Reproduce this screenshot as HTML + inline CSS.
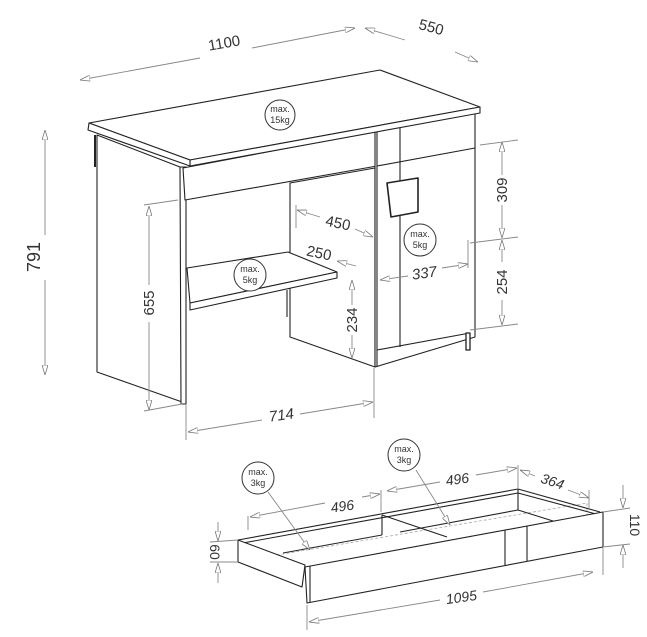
<!DOCTYPE html>
<html><head><style>
html,body{margin:0;padding:0;background:#fff}
svg{display:block}
text{font-family:"Liberation Sans",sans-serif;fill:#333}
</style></head><body>
<svg width="647" height="637" viewBox="0 0 647 637" xmlns="http://www.w3.org/2000/svg">
<defs>
<marker id="a" viewBox="0 0 10 6" refX="10" refY="3" markerWidth="10" markerHeight="6" orient="auto-start-reverse" markerUnits="userSpaceOnUse"><path d="M0,0 L10,3 L0,6 z" fill="#fff" stroke="#777" stroke-width="0.8"/></marker>
</defs>
<g fill="none" stroke="#aaa" stroke-width="0.9" stroke-dasharray="3,2">
<polygon points="295,228 387,212 468,242 377,258"/>
</g>
<!-- desk -->
<g fill="#fff" stroke="#222" stroke-width="1.1" stroke-linejoin="round">
<polygon points="97,135 180,167 185,403 97,372"/>
<line x1="95" y1="135" x2="95" y2="167" stroke-width="2"/>
<polygon points="180,167 186,167 186,404 181,404"/>
<polygon points="183,168 377,131 377,166 185,200"/>
<polygon points="290,183 375,168 375,367 290,337"/>
<polygon points="187,268 288,252 337,272 190,303"/>
<polygon points="190,303 337,272 337,278 190,310"/>
<line x1="287" y1="290" x2="287" y2="317"/>
<polygon points="375,131 475,113 475,337 375,367"/>
<line x1="377" y1="131" x2="377" y2="367"/>
<line x1="377" y1="350" x2="470" y2="333"/>
<line x1="400" y1="128" x2="400" y2="347"/>
<line x1="377" y1="166" x2="475" y2="148"/>
<rect x="466" y="333" width="4" height="17" stroke-width="1.3"/>
<polygon points="387,183 418,178 418,212 391,217" stroke-width="1.6"/>
<polygon points="89,123 380,70 480,107 190,160"/>
<polygon points="190,160 480,107 480,113 190,166"/>
<polygon points="89,123 190,160 190,166 88,130"/>
</g>
<g fill="none" stroke="#888" stroke-width="0.9">
<line x1="80" y1="80" x2="200" y2="58" marker-start="url(#a)"/>
<line x1="252" y1="48" x2="355" y2="28" marker-end="url(#a)"/>
<line x1="365" y1="28" x2="405" y2="40" marker-start="url(#a)"/>
<line x1="455" y1="52" x2="478" y2="62" marker-end="url(#a)"/>
<line x1="45" y1="130" x2="45" y2="235" marker-start="url(#a)"/>
<line x1="45" y1="280" x2="45" y2="375" marker-end="url(#a)"/>
<line x1="149" y1="206" x2="149" y2="285" marker-start="url(#a)"/>
<line x1="149" y1="322" x2="149" y2="410" marker-end="url(#a)"/>
<line x1="144" y1="205" x2="178" y2="200"/><line x1="144" y1="411" x2="182" y2="404"/>
<line x1="186" y1="405" x2="186" y2="440"/><line x1="374" y1="368" x2="374" y2="418"/>
<line x1="188" y1="432" x2="262" y2="420" marker-start="url(#a)"/>
<line x1="300" y1="414" x2="373" y2="402" marker-end="url(#a)"/>
<line x1="352" y1="280" x2="352" y2="305" marker-start="url(#a)"/>
<line x1="352" y1="335" x2="352" y2="358" marker-end="url(#a)"/>
<line x1="480" y1="145" x2="518" y2="140"/><line x1="470" y1="243" x2="518" y2="237"/><line x1="470" y1="330" x2="518" y2="324"/>
<line x1="502" y1="142" x2="502" y2="175" marker-start="url(#a)"/>
<line x1="502" y1="205" x2="502" y2="238" marker-end="url(#a)"/>
<line x1="502" y1="240" x2="502" y2="262" marker-start="url(#a)"/>
<line x1="502" y1="300" x2="502" y2="325" marker-end="url(#a)"/>
<line x1="297" y1="210" x2="320" y2="217" marker-start="url(#a)"/>
<line x1="355" y1="229" x2="373" y2="237" marker-end="url(#a)"/>
<line x1="337" y1="261" x2="356" y2="266" marker-start="url(#a)"/>
<line x1="380" y1="280" x2="408" y2="276" marker-start="url(#a)"/>
<line x1="442" y1="268" x2="468" y2="264" marker-end="url(#a)"/>
<line x1="468" y1="240" x2="468" y2="268"/><line x1="296" y1="205" x2="296" y2="228"/>
</g>
<g fill="#fff" stroke="#333" stroke-width="1">
<circle cx="280" cy="115" r="15"/>
<circle cx="420" cy="240" r="16"/>
<circle cx="250" cy="275" r="16"/>
</g>
<g font-size="9" text-anchor="middle">
<text x="280" y="112">max.</text><text x="280" y="123">15kg</text>
<text x="420" y="237">max.</text><text x="420" y="248">5kg</text>
<text x="250" y="272">max.</text><text x="250" y="283">5kg</text>
</g>
<g font-size="15">
<text transform="translate(225,48) rotate(-10)" text-anchor="middle">1100</text>
<text transform="translate(430,32) rotate(15)" text-anchor="middle">550</text>
<text transform="translate(40,257) rotate(-90)" text-anchor="middle" font-size="18">791</text>
<text transform="translate(154,303) rotate(-90)" text-anchor="middle">655</text>
<text transform="translate(282,420) rotate(-8)" text-anchor="middle" font-style="italic">714</text>
<text transform="translate(357,320) rotate(-90)" text-anchor="middle">234</text>
<text transform="translate(507,190) rotate(-90)" text-anchor="middle">309</text>
<text transform="translate(507,282) rotate(-90)" text-anchor="middle">254</text>
<text transform="translate(337,228) rotate(12)" text-anchor="middle">450</text>
<text transform="translate(318,258) rotate(12)" text-anchor="middle">250</text>
<text transform="translate(425,278) rotate(-8)" text-anchor="middle" font-style="italic">337</text>
</g>
<!-- drawer -->
<g fill="none" stroke="#aaa" stroke-width="0.8" stroke-dasharray="3,2">
<polyline points="247,560 587,503 587,532 307,585"/>
</g>
<g fill="none" stroke="#222" stroke-width="1.1" stroke-linejoin="round">
<polyline points="238,540 518,489 600,512"/>
<polyline points="243,543 518,493 596,514"/>
<line x1="283" y1="553" x2="382" y2="535"/>
<line x1="382" y1="515" x2="382" y2="535"/>
<line x1="382" y1="515" x2="447" y2="537"/>
<line x1="400" y1="532" x2="518" y2="510"/>
<line x1="518" y1="489" x2="518" y2="510"/>
<line x1="518" y1="510" x2="553" y2="521"/>
<polygon points="238,540 305,565 302,587 238,562" fill="#fff"/>
<polygon points="305,567 603,512 603,547 307,603" fill="#fff"/>
<line x1="310" y1="566" x2="310" y2="602"/>
<line x1="505" y1="530" x2="505" y2="565"/><line x1="527" y1="526" x2="527" y2="561"/>
</g>
<g fill="none" stroke="#888" stroke-width="0.9">
<line x1="248" y1="516" x2="248" y2="530"/><line x1="381" y1="490" x2="381" y2="512"/><line x1="518" y1="465" x2="518" y2="489"/>
<line x1="250" y1="517" x2="325" y2="503" marker-start="url(#a)"/>
<line x1="362" y1="497" x2="380" y2="494" marker-end="url(#a)"/>
<line x1="387" y1="491" x2="440" y2="482" marker-start="url(#a)"/>
<line x1="476" y1="475" x2="517" y2="468" marker-end="url(#a)"/>
<line x1="520" y1="470" x2="535" y2="476" marker-start="url(#a)"/>
<line x1="568" y1="490" x2="589" y2="498" marker-end="url(#a)"/>
<line x1="589" y1="490" x2="589" y2="510"/>
<line x1="603" y1="512" x2="630" y2="508"/><line x1="603" y1="547" x2="630" y2="544"/>
<line x1="623" y1="485" x2="623" y2="508" marker-end="url(#a)"/>
<line x1="623" y1="568" x2="623" y2="545" marker-end="url(#a)"/>
<line x1="210" y1="542" x2="238" y2="540"/><line x1="210" y1="562" x2="238" y2="562"/>
<line x1="218" y1="522" x2="218" y2="541" marker-end="url(#a)"/>
<line x1="218" y1="583" x2="218" y2="563" marker-end="url(#a)"/>
<line x1="307" y1="605" x2="307" y2="630"/><line x1="603" y1="548" x2="603" y2="575"/>
<line x1="309" y1="622" x2="440" y2="600" marker-start="url(#a)"/>
<line x1="483" y1="592" x2="593" y2="572" marker-end="url(#a)"/>
<line x1="268" y1="492" x2="310" y2="550" marker-end="url(#a)"/>
<line x1="416" y1="470" x2="450" y2="525" marker-end="url(#a)"/>
</g>
<g fill="#fff" stroke="#333" stroke-width="1">
<circle cx="258" cy="478" r="16"/>
<circle cx="404" cy="455" r="16"/>
</g>
<g font-size="9" text-anchor="middle">
<text x="258" y="475">max.</text><text x="258" y="486">3kg</text>
<text x="404" y="452">max.</text><text x="404" y="463">3kg</text>
</g>
<g font-size="14" font-style="italic" text-anchor="middle">
<text transform="translate(343,511) rotate(-8)">496</text>
<text transform="translate(458,484) rotate(-8)">496</text>
<text transform="translate(551,486) rotate(18)">364</text>
<text transform="translate(630,525) rotate(90)" font-style="normal">110</text>
<text transform="translate(210,552) rotate(90)" font-style="normal">60</text>
<text transform="translate(462,602) rotate(-8)">1095</text>
</g>
</svg>
</body></html>
